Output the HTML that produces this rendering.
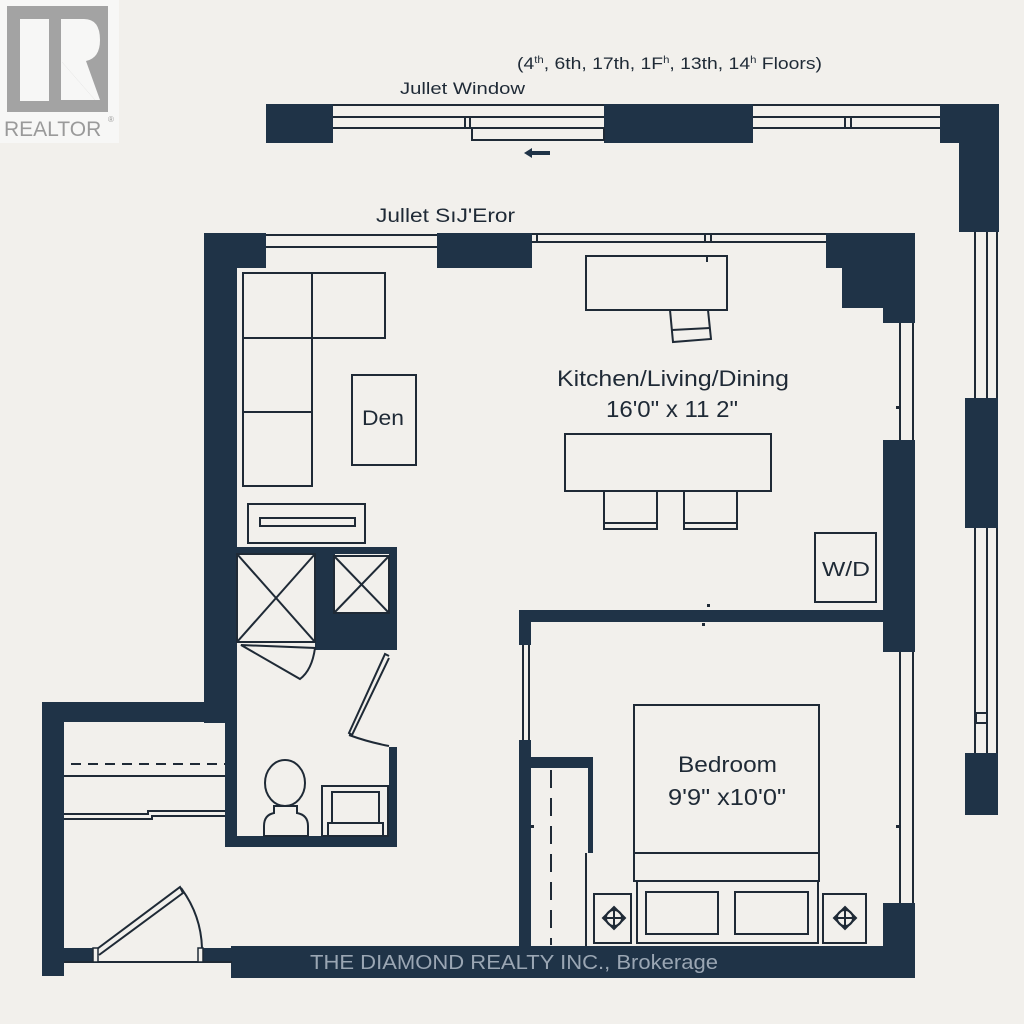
<!DOCTYPE html>
<html><head><meta charset="utf-8"><style>
html,body{margin:0;padding:0;background:#f2f0ec;}
svg{display:block;}
text{font-family:"Liberation Sans","DejaVu Sans",sans-serif;fill:#1f2a36;}
</style></head><body>
<svg width="1024" height="1024" viewBox="0 0 1024 1024" xmlns="http://www.w3.org/2000/svg">
<rect width="1024" height="1024" fill="#f2f0ec"/>
<rect x="0" y="0" width="119" height="143" fill="#f7f7f6"/>
<rect x="7" y="6" width="101" height="106" fill="#a3a3a3"/>
<rect x="20" y="19" width="29" height="82" fill="#f7f7f6"/>
<path d="M61 19 H84 Q100 19 100 40 Q100 58 86 61 L100 100 H95 L62 62 V100 H61 Z" fill="#f7f7f6"/>
<path d="M62 62 L95 100 H62 Z" fill="#f7f7f6"/>
<text x="4" y="136" font-size="21" style="fill:#9a9a9a">REALTOR</text>
<text x="108" y="122" font-size="8" style="fill:#9a9a9a">®</text>

<g fill="#1f3347" stroke="none">
<rect x="266" y="104" width="67" height="39"/>
<rect x="604" y="104" width="149" height="39"/>
<rect x="940" y="104" width="59" height="39"/>
<rect x="959" y="104" width="40" height="128"/>
<rect x="965" y="398" width="33" height="130"/>
<rect x="965" y="753" width="33" height="62"/>
<rect x="204" y="233" width="62" height="35"/>
<rect x="437" y="233" width="95" height="35"/>
<path d="M826 233 H915 V323 H883 V308 H842 V268 H826 Z"/>
<rect x="883" y="440" width="32" height="212"/>
<rect x="883" y="903" width="32" height="75"/>
<rect x="204" y="233" width="33" height="490"/>
<rect x="42" y="702" width="195" height="20"/>
<rect x="42" y="702" width="22" height="274"/>
<rect x="42" y="948" width="51" height="14"/>
<rect x="203" y="948" width="29" height="14"/>
<rect x="231" y="946" width="684" height="32"/>
<rect x="225" y="547" width="172" height="7"/>
<rect x="315" y="547" width="20" height="96"/>
<rect x="315" y="613" width="82" height="37"/>
<rect x="389" y="547" width="8" height="103"/>
<rect x="389" y="747" width="8" height="100"/>
<rect x="225" y="836" width="172" height="11"/>
<rect x="225" y="700" width="12" height="147"/>
<rect x="519" y="610" width="396" height="12"/>
<rect x="519" y="610" width="12" height="35"/>
<rect x="519" y="740" width="12" height="210"/>
<rect x="519" y="757" width="74" height="11"/>
<rect x="588" y="757" width="5" height="96"/>
</g>

<g fill="none" stroke="#1f2a36" stroke-width="2">
<line x1="333" y1="105" x2="604" y2="105"/>
<line x1="333" y1="117" x2="604" y2="117"/>
<line x1="333" y1="128" x2="604" y2="128"/>
<rect x="472" y="128" width="132" height="12"/>
<line x1="465" y1="117" x2="465" y2="128"/><line x1="470" y1="117" x2="470" y2="128"/>
<line x1="753" y1="105" x2="940" y2="105"/>
<line x1="753" y1="117" x2="940" y2="117"/>
<line x1="753" y1="128" x2="940" y2="128"/>
<line x1="845" y1="117" x2="845" y2="128"/><line x1="851" y1="117" x2="851" y2="128"/>
<line x1="975" y1="232" x2="975" y2="398"/><line x1="987" y1="232" x2="987" y2="398"/><line x1="997" y1="232" x2="997" y2="398"/>
<line x1="975" y1="528" x2="975" y2="753"/><line x1="987" y1="528" x2="987" y2="753"/><line x1="997" y1="528" x2="997" y2="753"/>
<rect x="976" y="713" width="11" height="10"/>
<line x1="266" y1="235" x2="437" y2="235"/>
<line x1="266" y1="247" x2="437" y2="247"/>
<line x1="532" y1="234" x2="826" y2="234"/>
<line x1="532" y1="242" x2="826" y2="242"/>
<line x1="537" y1="234" x2="537" y2="242"/><line x1="705" y1="234" x2="705" y2="242"/><line x1="711" y1="234" x2="711" y2="242"/>
<line x1="900" y1="323" x2="900" y2="440"/><line x1="913" y1="323" x2="913" y2="440"/>
<line x1="900" y1="652" x2="900" y2="903"/><line x1="913" y1="652" x2="913" y2="903"/>
<rect x="243" y="273" width="69" height="65"/>
<rect x="312" y="273" width="73" height="65"/>
<rect x="243" y="338" width="69" height="74"/>
<rect x="243" y="412" width="69" height="74"/>
<rect x="352" y="375" width="64" height="90"/>
<rect x="248" y="504" width="117" height="39"/>
<rect x="260" y="518" width="95" height="8"/>
<rect x="586" y="256" width="141" height="54"/>
<line x1="707" y1="257" x2="707" y2="262"/>
<path d="M670 310 L673 342 L711 339 L708 310"/>
<line x1="672" y1="330" x2="710" y2="328"/>
<rect x="565" y="434" width="206" height="57"/>
<rect x="604" y="491" width="53" height="38"/><line x1="604" y1="523" x2="657" y2="523"/>
<rect x="684" y="491" width="53" height="38"/><line x1="684" y1="523" x2="737" y2="523"/>
<rect x="815" y="533" width="61" height="69"/>
<rect x="237" y="554" width="78" height="88"/>
<line x1="237" y1="554" x2="315" y2="642"/><line x1="315" y1="554" x2="237" y2="642"/>
<rect x="334" y="556" width="55" height="57"/>
<line x1="334" y1="556" x2="389" y2="613"/><line x1="389" y1="556" x2="334" y2="613"/>
<path d="M241 645 L315 648 Q312 670 300 679 Z"/>
<path d="M389 656 L385 654 L349 733 L352 735 L389 658"/>
<path d="M349 735 Q368 742 389 746"/>
<ellipse cx="285" cy="783" rx="20" ry="23"/>
<path d="M274 806 H297 V813 Q308 815 308 826 V836 H264 V826 Q264 815 274 813 Z"/>
<rect x="322" y="786" width="66" height="50"/>
<rect x="332" y="792" width="47" height="31"/>
<rect x="328" y="823" width="55" height="13"/>
<line x1="71" y1="764" x2="225" y2="764" stroke-dasharray="10 7"/>
<line x1="64" y1="776" x2="225" y2="776"/>
<path d="M64 814 H148 V811 H225 M64 819 H152 V816 H225"/>
<path d="M97 949 L180 887 L183 893 L99 955"/>
<path d="M181 888 Q201 915 202 948"/>
<line x1="64" y1="962" x2="232" y2="962"/>
<line x1="523" y1="645" x2="523" y2="740"/><line x1="529" y1="645" x2="529" y2="740"/>
<line x1="551" y1="770" x2="551" y2="945" stroke-dasharray="18 10"/>
<line x1="586" y1="853" x2="586" y2="946"/>
<rect x="634" y="705" width="185" height="148"/>
<rect x="634" y="853" width="185" height="28"/>
<rect x="637" y="881" width="181" height="62"/>
<rect x="646" y="892" width="72" height="42"/>
<rect x="735" y="892" width="73" height="42"/>
<rect x="594" y="894" width="37" height="49"/>
<rect x="823" y="894" width="43" height="49"/>
<path d="M614 907 L625 918 L614 929 L603 918 Z"/><circle cx="614" cy="918" r="8"/>
<line x1="614" y1="907" x2="614" y2="929"/><line x1="603" y1="918" x2="625" y2="918"/>
<path d="M845 907 L856 918 L845 929 L834 918 Z"/><circle cx="845" cy="918" r="8"/>
<line x1="845" y1="907" x2="845" y2="929"/><line x1="834" y1="918" x2="856" y2="918"/>
</g>
<g fill="#f2f0ec" stroke="#1f2a36" stroke-width="1.5">
<rect x="93" y="948" width="5" height="14"/>
<rect x="198" y="948" width="5" height="14"/>
</g>
<path d="M524 153 L532 148 V151 H550 V155 H532 V158 Z" fill="#1f3347"/>
<rect x="896" y="406" width="3" height="3" fill="#1f2a36"/>
<rect x="707" y="604" width="3" height="3" fill="#1f2a36"/>
<rect x="702" y="623" width="3" height="3" fill="#1f2a36"/>
<rect x="531" y="825" width="3" height="3" fill="#1f2a36"/>
<rect x="896" y="825" width="3" height="3" fill="#1f2a36"/>

<text x="517" y="69" font-size="17" textLength="305" lengthAdjust="spacingAndGlyphs">(4<tspan font-size="10" dy="-6">th</tspan><tspan dy="6">, 6th, 17th, 1F</tspan><tspan font-size="10" dy="-6">h</tspan><tspan dy="6">, 13th, 14</tspan><tspan font-size="10" dy="-6">h</tspan><tspan dy="6"> Floors)</tspan></text>
<text x="400" y="94" font-size="17" textLength="125" lengthAdjust="spacingAndGlyphs">Jullet Window</text>
<text x="376" y="222" font-size="19" textLength="139" lengthAdjust="spacingAndGlyphs">Jullet SıJ'Eror</text>
<text x="557" y="386" font-size="22" textLength="232" lengthAdjust="spacingAndGlyphs">Kitchen/Living/Dining</text>
<text x="606" y="417" font-size="23" textLength="132" lengthAdjust="spacingAndGlyphs">16'0" x 11 2"</text>
<text x="362" y="425" font-size="21" textLength="42" lengthAdjust="spacingAndGlyphs">Den</text>
<text x="822" y="576" font-size="20" textLength="48" lengthAdjust="spacingAndGlyphs">W/D</text>
<text x="678" y="772" font-size="22" textLength="99" lengthAdjust="spacingAndGlyphs">Bedroom</text>
<text x="668" y="805" font-size="23" textLength="118" lengthAdjust="spacingAndGlyphs">9'9" x10'0"</text>
<text x="310" y="969" font-size="20" textLength="408" lengthAdjust="spacingAndGlyphs" style="fill:#9aa6b3">THE DIAMOND REALTY INC., Brokerage</text>
</svg>
</body></html>
